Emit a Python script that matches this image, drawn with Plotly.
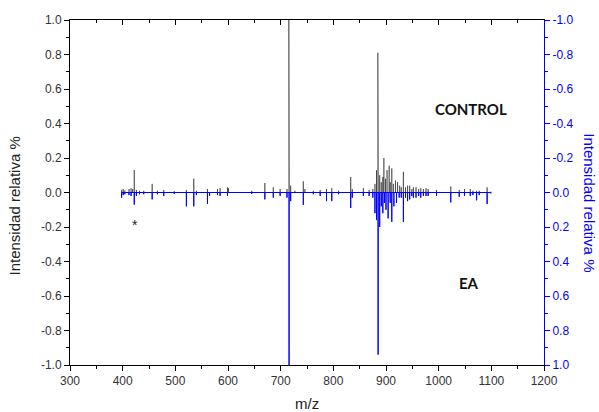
import plotly.graph_objects as go

# ---------------- data ----------------
control_mz = [398, 401, 404, 412, 416, 419, 422, 426, 432, 440, 456, 466, 478, 498, 521, 535, 540,
              561, 580, 585, 599, 601, 645, 670, 686, 699, 712, 715.5, 716.5, 719, 727, 743, 746,
              762, 775, 787, 797, 810, 833, 836, 857, 868, 875, 879, 882, 884.5, 885.5, 888, 891,
              894, 896, 899, 902, 906, 908, 911, 914, 918, 922, 926, 929, 933, 937, 941, 945, 949,
              952, 957, 962, 966, 971, 976, 980, 996, 1023, 1039, 1049, 1060, 1065, 1072, 1077,
              1092, 1099]
control_int = [0.015, 0.02, 0.012, 0.02, 0.025, 0.02, 0.13, 0.015, 0.01, 0.01, 0.05, 0.01, 0.015,
               0.008, 0.015, 0.08, 0.01, 0.02, 0.02, 0.025, 0.03, 0.025, 0.01, 0.055, 0.03, 0.02,
               0.02, 1.0, 0.33, 0.04, 0.01, 0.065, 0.02, 0.01, 0.015, 0.02, 0.025, 0.01, 0.09, 0.02,
               0.025, 0.015, 0.02, 0.05, 0.13, 0.81, 0.39, 0.1, 0.06, 0.09, 0.2, 0.08, 0.13, 0.155,
               0.06, 0.14, 0.05, 0.07, 0.06, 0.04, 0.03, 0.12, 0.03, 0.04, 0.04, 0.02, 0.03, 0.03,
               0.02, 0.025, 0.02, 0.025, 0.02, 0.015, 0.035, 0.015, 0.02, 0.02, 0.01, 0.01, 0.01,
               0.03, 0.005]

ea_mz = [398, 401, 404, 412, 416, 422, 426, 432, 440, 456, 466, 478, 498, 521, 535, 540, 561, 565,
         580, 585, 599, 645, 670, 686, 699, 712, 716, 719, 743, 762, 775, 787, 797, 810, 833, 836,
         857, 868, 875, 879, 882, 885, 888, 891, 894, 897, 900, 904, 908, 911, 915, 920, 925, 929,
         933, 937, 941, 945, 949, 952, 957, 962, 966, 971, 976, 980, 996, 1023, 1039, 1049, 1060,
         1065, 1072, 1077, 1092, 1099]
ea_int = [0.03, 0.015, 0.01, 0.015, 0.02, 0.07, 0.02, 0.01, 0.01, 0.04, 0.01, 0.02, 0.008, 0.08,
          0.08, 0.015, 0.065, 0.02, 0.015, 0.02, 0.02, 0.008, 0.04, 0.03, 0.02, 0.03, 1.0, 0.05,
          0.072, 0.01, 0.02, 0.05, 0.05, 0.01, 0.09, 0.03, 0.02, 0.02, 0.03, 0.12, 0.16, 0.94, 0.2,
          0.08, 0.12, 0.06, 0.1, 0.15, 0.06, 0.17, 0.08, 0.06, 0.03, 0.03, 0.17, 0.03, 0.05, 0.04,
          0.02, 0.03, 0.03, 0.02, 0.03, 0.02, 0.02, 0.02, 0.02, 0.057, 0.025, 0.02, 0.02, 0.015,
          0.045, 0.015, 0.067, 0.005]

x_ticks = [300, 400, 500, 600, 700, 800, 900, 1000, 1100, 1200]
y_ticks = [-1.0, -0.8, -0.6, -0.4, -0.2, 0.0, 0.2, 0.4, 0.6, 0.8, 1.0]
y_ticktext = ["-1.0", "-0.8", "-0.6", "-0.4", "-0.2", "0.0", "0.2", "0.4", "0.6", "0.8", "1.0"]


def stick_path(mz, inten):
    xs, ys = [], []
    for m, h in zip(mz, inten):
        xs += [m, m, m]
        ys += [0, h, 0]
    return xs, ys


cx, cy = stick_path(control_mz, control_int)
ex, ey = stick_path(ea_mz, ea_int)

FONT = "Liberation Sans, Arial, sans-serif"
BLUE = "#0000ff"

fig = go.Figure()
fig.add_trace(go.Scatter(x=cx, y=cy, mode="lines", line=dict(color="rgba(0,0,0,0.6)", width=0.8),
                         xaxis="x", yaxis="y", showlegend=False, hoverinfo="skip"))
fig.add_trace(go.Scatter(x=ex, y=ey, mode="lines", line=dict(color=BLUE, width=1),
                         xaxis="x2", yaxis="y2", showlegend=False, hoverinfo="skip"))

fig.update_layout(
    width=599, height=412,
    margin=dict(l=70, r=55, t=20, b=47, autoexpand=False),
    paper_bgcolor="white", plot_bgcolor="white",
    font=dict(family=FONT, size=12, color="#333"),
    xaxis=dict(range=[300, 1200], tickvals=x_ticks, ticks="outside", ticklen=5, tickwidth=1,
               tickcolor="black", showline=True, linecolor="black", linewidth=1, showgrid=False,
               zeroline=False, automargin=False,
               minor=dict(dtick=50, tick0=300, ticks="outside", ticklen=3, tickcolor="black"),
               tickfont=dict(size=12, color="#333")),
    xaxis2=dict(range=[300, 1200], overlaying="x", side="top", anchor="y", tickvals=x_ticks,
                ticks="inside", ticklen=5, tickcolor="black", showticklabels=False,
                showline=True, linecolor="black", linewidth=1, showgrid=False, zeroline=False,
                automargin=False,
                minor=dict(dtick=50, tick0=300, ticks="inside", ticklen=3, tickcolor="black")),
    yaxis=dict(range=[-1, 1], tickvals=y_ticks, ticktext=y_ticktext, ticks="outside", ticklen=5,
               tickcolor="black", showline=True, linecolor="black", linewidth=1, showgrid=False,
               zeroline=False, automargin=False,
               minor=dict(dtick=0.1, tick0=0, ticks="outside", ticklen=3, tickcolor="black"),
               tickfont=dict(size=12, color="#333")),
    yaxis2=dict(range=[1, -1], overlaying="y", side="right", anchor="x2", tickvals=y_ticks,
                ticktext=y_ticktext, ticks="outside", ticklen=5, tickcolor=BLUE, showline=True,
                linecolor=BLUE, linewidth=1, showgrid=False, zeroline=False, automargin=False,
                minor=dict(dtick=0.1, tick0=0, ticks="outside", ticklen=3, tickcolor=BLUE),
                tickfont=dict(size=12, color=BLUE)),
    annotations=[
        dict(x=0.5, y=-0.113, xref="paper", yref="paper", text="m/z", showarrow=False,
             xanchor="center", yanchor="middle", font=dict(size=15, color="#222")),
        dict(x=-0.117, y=0.461, xref="paper", yref="paper", text="Intensidad relativa %",
             textangle=-90, showarrow=False, xanchor="center", yanchor="middle",
             font=dict(size=15, color="#222")),
        dict(x=1.097, y=0.469, xref="paper", yref="paper", text="Intensidad relativa %",
             textangle=90, showarrow=False, xanchor="center", yanchor="middle",
             font=dict(size=15, color=BLUE)),
        dict(x=1061, y=0.484, xref="x", yref="y", text="<b>CONTROL</b>", showarrow=False,
             font=dict(family="Lato, sans-serif", size=15, color="#111")),
        dict(x=1057, y=-0.525, xref="x", yref="y", text="<b>EA</b>", showarrow=False,
             font=dict(family="Lato, sans-serif", size=15, color="#111")),
        dict(x=423, y=-0.19, xref="x", yref="y", text="*", showarrow=False,
             font=dict(family=FONT, size=14, color="#222")),
    ],
)

fig.write_html("out.html", config={"displayModeBar": False},
               post_script="document.body.style.margin='0';document.body.style.overflow='hidden';")
